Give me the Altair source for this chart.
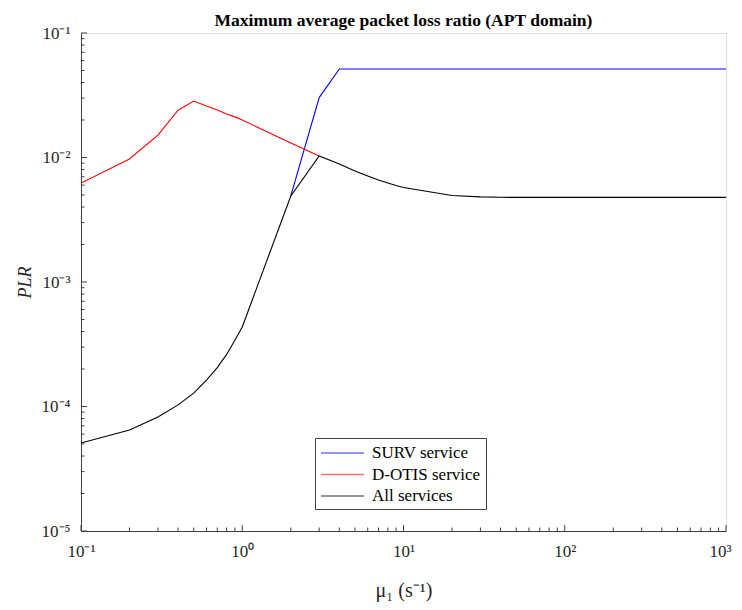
import altair as alt
import pandas as pd

# ---- data ----
x_all = [0.1, 0.2, 0.3, 0.4, 0.5, 0.6, 0.7, 0.8, 0.9, 1,
         2, 3, 4, 5, 6, 7, 8, 9, 10,
         20, 30, 40, 50, 60, 70, 80, 90, 100,
         200, 300, 400, 500, 600, 700, 800, 900, 1000]

all_y = [5.09e-5, 6.47e-5, 8.24e-5, 1.03e-4, 1.28e-4, 1.63e-4, 2.05e-4, 2.62e-4, 3.4e-4, 4.35e-4,
         4.91e-3, 1.03e-2, 8.87e-3, 7.79e-3, 7.1e-3, 6.59e-3, 6.24e-3, 5.96e-3, 5.74e-3,
         4.95e-3, 4.83e-3, 4.79e-3, 4.78e-3, 4.78e-3, 4.78e-3, 4.78e-3, 4.78e-3, 4.78e-3,
         4.78e-3, 4.78e-3, 4.78e-3, 4.78e-3, 4.78e-3, 4.78e-3, 4.78e-3, 4.78e-3, 4.78e-3]

dotis_x = [0.1, 0.2, 0.3, 0.4, 0.5, 0.6, 0.7, 0.8, 0.9, 1, 2, 3]
dotis_y = [6.24e-3, 9.73e-3, 1.51e-2, 2.4e-2, 2.84e-2, 2.59e-2, 2.41e-2, 2.24e-2, 2.12e-2, 2.0e-2, 1.31e-2, 1.03e-2]

surv_x = [2, 3, 4, 5, 6, 7, 8, 9, 10, 20, 30, 40, 50, 60, 70, 80, 90, 100,
          200, 300, 400, 500, 600, 700, 800, 900, 1000]
surv_y = [4.91e-3, 3.03e-2] + [5.14e-2] * 25

series_names = ["SURV service", "D-OTIS service", "All services"]
series_colors = ["#0000ff", "#ff0000", "#000000"]

x_major = [0.1, 1, 10, 100, 1000]
x_minor = [m * d for d in [0.1, 1, 10, 100] for m in range(2, 10)]
y_major = [1e-5, 1e-4, 1e-3, 1e-2, 1e-1]
y_minor = [m * d for d in [1e-5, 1e-4, 1e-3, 1e-2] for m in range(2, 10)]

title_text = "Maximum average packet loss ratio (APT domain)"
x_title = "\u03bc\u2081 (s\u207b\u00b9)"
y_title = "PLR"

# ---- build ----
W, H = 645, 498
FONT = "Liberation Serif"
sup = "['\u207b\u2075','\u207b\u2074','\u207b\u00b3','\u207b\u00b2','\u207b\u00b9','\u2070','\u00b9','\u00b2','\u00b3']"
lab_expr = "'10' + " + sup + "[round(log(datum.value)/LN10)+5]"

df_surv = pd.DataFrame({"x": surv_x, "y": surv_y, "s": series_names[0]})
df_dotis = pd.DataFrame({"x": dotis_x, "y": dotis_y, "s": series_names[1]})
df_all = pd.DataFrame({"x": x_all, "y": all_y, "s": series_names[2]})

xs = alt.Scale(type="log", domain=[0.1, 1000], nice=False)
ys = alt.Scale(type="log", domain=[1e-5, 1e-1], nice=False)

xenc = alt.X("x:Q", scale=xs, title=x_title,
             axis=alt.Axis(values=x_major, labelExpr=lab_expr, grid=False, ticks=False,
                           labelPadding=12, titlePadding=21, domainColor="#404040",
                           labelFont=FONT, labelFontSize=17, labelColor="#262626",
                           labelOffset={"condition": {"test": "datum.value == 1000", "value": -6}, "value": 0},
                           titleFont=FONT, titleFontSize=20, titleFontWeight="normal",
                           titleColor="#262626", labelFlush=False))
yenc = alt.Y("y:Q", scale=ys, title=y_title,
             axis=alt.Axis(values=y_major, labelExpr=lab_expr, grid=False, ticks=False,
                           labelPadding=11, titlePadding=7, domainColor="#404040",
                           labelFont=FONT, labelFontSize=17, labelColor="#262626",
                           titleFont=FONT, titleFontSize=18, titleFontWeight="normal",
                           titleFontStyle="italic", titleColor="#262626", labelFlush=False))

color = alt.Color("s:N", scale=alt.Scale(domain=series_names, range=series_colors),
                  legend=alt.Legend(title=None, orient="none", legendX=234, legendY=405,
                                    symbolType="M-1,0H3.78", symbolSize=324, symbolStrokeWidth=1.5,
                                    labelFont=FONT, labelFontSize=17, labelColor="#000000",
                                    strokeColor="#404040", fillColor="white", padding=5,
                                    rowPadding=3.5, labelOffset=32, symbolOpacity=0.55))

def line(df):
    return alt.Chart(df).mark_line(strokeWidth=1.1, clip=True).encode(x=xenc, y=yenc, color=color)

def xticks(vals, L):
    return alt.Chart(pd.DataFrame({"v": vals})).mark_rule(color="#404040", strokeWidth=1).encode(
        x=alt.X("v:Q", scale=xs), y=alt.value(H), y2=alt.value(H - L))

def yticks(vals, L):
    return alt.Chart(pd.DataFrame({"v": vals})).mark_rule(color="#404040", strokeWidth=1).encode(
        y=alt.Y("v:Q", scale=ys), x=alt.value(0), x2=alt.value(L))

chart = alt.layer(
    line(df_surv), line(df_dotis), line(df_all),
    xticks(x_major, 6), xticks(x_minor, 3.5), yticks(y_major, 6), yticks(y_minor, 3.5)
).properties(
    width=W, height=H,
    title=alt.TitleParams(title_text, font=FONT, fontSize=17.5, fontWeight="bold",
                          color="#000000", offset=8, dy=13, anchor="middle"),
    padding={"left": 73, "top": 25, "right": 8, "bottom": 71},
    autosize=alt.AutoSizeParams(type="none"),
).configure_view(stroke=None).configure(background="white")

chart.save("out.html", embed_options={"renderer": "svg", "actions": False})
